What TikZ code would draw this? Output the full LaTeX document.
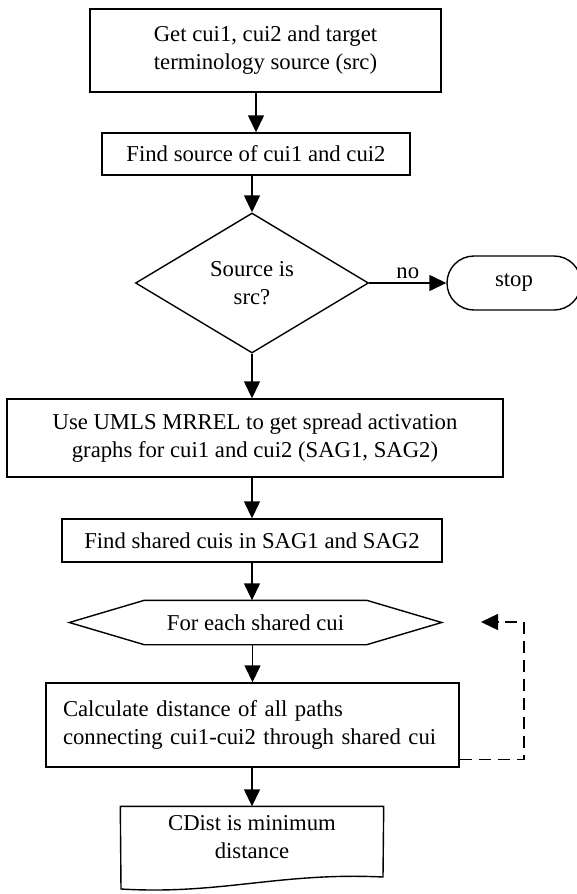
\documentclass[tikz,border=0pt]{standalone}
\usepackage{fontspec}
\setmainfont{Liberation Serif}
\usetikzlibrary{shapes,arrows,arrows.meta,positioning}

\begin{document}
\begin{tikzpicture}[x=1pt,y=-1pt,
  font=\fontsize{22.7}{28}\selectfont,
  line width=1.4pt,
  block/.style={rectangle, draw, align=center, inner sep=0pt},
  decision/.style={diamond, draw, align=center, inner sep=0pt, aspect=1.66},
  term/.style={rectangle, rounded corners=27pt, draw, inner sep=0pt},
  flow/.style={-{Triangle[length=17pt,width=16pt]}},
  loopback/.style={flow, dash pattern=on 12pt off 7pt}]
\useasboundingbox (0,0) rectangle (576,894);

% steps
\node[block, minimum width=351pt, minimum height=83pt] (getsrc) at (265.5,50.5) {Get cui1, cui2 and target\\terminology source (src)};
\node[block, minimum width=308pt, minimum height=42pt] (findsrc) at (256,154) {Find source of cui1 and cui2};
\node[decision, minimum width=233pt, minimum height=140pt] (srccheck) at (252,283) {Source is\\src?};
\node[term, minimum width=134pt, minimum height=54pt] (stop) at (514,283) {stop};
\node[block, minimum width=496pt, minimum height=78pt] (sag) at (255,438) {Use UMLS MRREL to get spread activation\\graphs for cui1 and cui2 (SAG1, SAG2)};
\node[block, minimum width=380pt, minimum height=43pt] (shared) at (252,540.5) {Find shared cuis in SAG1 and SAG2};
\node[minimum width=371pt, minimum height=43pt, inner sep=0pt] (each) at (255.5,622.5) {For each shared cui};
\draw (each.west) -- ([xshift=75pt]each.north west) -- ([xshift=-75pt]each.north east) -- (each.east)
  -- ([xshift=-75pt]each.south east) -- ([xshift=75pt]each.south west) -- cycle;
\node[block, minimum width=413pt, minimum height=84pt, text width=379pt, inner xsep=17pt, align=left] (pathdist) at (252.5,725) {Calculate distance of all paths\\connecting cui1-cui2 through shared cui};
\node[minimum width=262pt, minimum height=60pt, inner sep=0pt, align=center] (mindist) at (252,837) {CDist is minimum\\distance};
\draw (mindist.north west) -- (mindist.north east) -- (383,877) .. controls (280,872) and (220,895) .. (121,889) -- cycle;

% flow
\draw[flow] (getsrc.south -| findsrc) -- (findsrc.north);
\draw[flow] (findsrc.south -| srccheck) -- (srccheck.north);
\draw[flow] (srccheck) -- node[above] {no} (stop);
\draw[flow] (srccheck.south) -- (srccheck.south |- sag.north);
\draw[flow] (sag.south -| shared) -- (shared.north);
\draw[flow] (shared.south) -- (shared.south |- each.north);
\draw[flow] (each.south -| pathdist) -- (pathdist.north);
\draw[flow] (pathdist.south -| mindist) -- (mindist.north);

% loop back
\coordinate (turn) at (524,622);
\coordinate (backtip) at (481,622);
\draw[loopback] ([yshift=8pt]pathdist.south east) -| (turn) -- (backtip);
\end{tikzpicture}
\end{document}
